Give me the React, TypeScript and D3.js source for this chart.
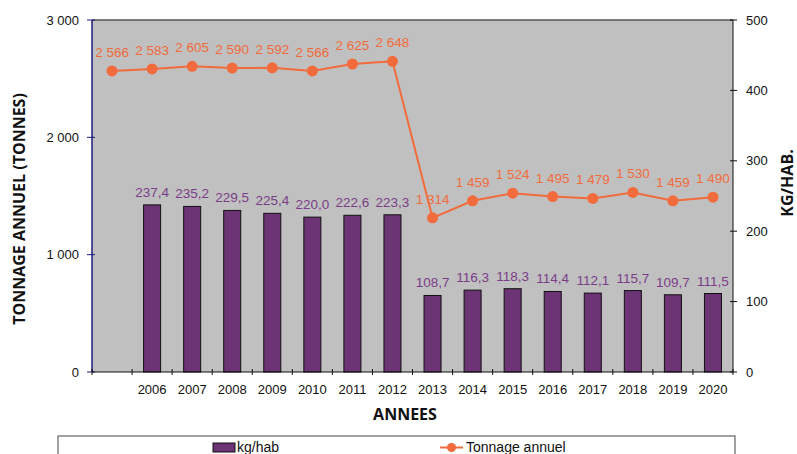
import React from "react";
import * as d3 from "d3";

const categories = ["", "2006", "2007", "2008", "2009", "2010", "2011", "2012", "2013", "2014", "2015", "2016", "2017", "2018", "2019", "2020"];
const tonnage = [2566, 2583, 2605, 2590, 2592, 2566, 2625, 2648, 1314, 1459, 1524, 1495, 1479, 1530, 1459, 1490];
const kgHab = [null, 237.4, 235.2, 229.5, 225.4, 220.0, 222.6, 223.3, 108.7, 116.3, 118.3, 114.4, 112.1, 115.7, 109.7, 111.5];
const leftTicks = [0, 1000, 2000, 3000];
const rightTicks = [0, 100, 200, 300, 400, 500];

const W = 797;
const H = 454;
const plot = { left: 92, right: 733, top: 20, bottom: 372 };

const fr = d3.formatLocale({ decimal: ",", thousands: " ", grouping: [3], currency: ["", " €"] });
const fmtT = fr.format(",d");
const fmtK = fr.format(".1f");

const ORANGE = "#f26b3c";
const PURPLE = "#6c3475";
const PURPLE_TXT = "#7a3e88";
const FONT = "Liberation Sans, Arial, sans-serif";
const TITLE_FONT = "Open Sans, sans-serif";

export default function App() {
  const x = d3
    .scaleBand<string>()
    .domain(categories.map((c, i) => String(i)))
    .range([plot.left, plot.right])
    .paddingInner(0.575)
    .paddingOuter(0.2875);
  const yL = d3.scaleLinear().domain([0, 3000]).range([plot.bottom, plot.top]);
  const yR = d3.scaleLinear().domain([0, 500]).range([plot.bottom, plot.top]);
  const cx = (i: number) => (x(String(i)) as number) + x.bandwidth() / 2;
  const step = x.step();
  const bounds = d3.range(categories.length + 1).map((i) => plot.left + i * step);

  const line = d3
    .line<number>()
    .x((d, i) => cx(i))
    .y((d) => yL(d));

  return (
    <svg width={W} height={H} style={{ position: "absolute", left: 0, top: 0, background: "#fff" }} fontFamily={FONT}>
      <rect x={plot.left} y={plot.top} width={plot.right - plot.left} height={plot.bottom - plot.top} fill="#c0c0c0" />
      <line x1={plot.left} x2={plot.right} y1={plot.top} y2={plot.top} stroke="#555" strokeWidth={1.5} />

      {kgHab.map((v, i) =>
        v == null ? null : (
          <g key={"b" + i}>
            <rect
              x={x(String(i))}
              y={yR(v)}
              width={x.bandwidth()}
              height={plot.bottom - yR(v)}
              fill={PURPLE}
              stroke="#111"
              strokeWidth={1}
            />
            <text x={cx(i)} y={yR(v) - 8} textAnchor="middle" fontSize={13.5} fill={PURPLE_TXT}>
              {fmtK(v)}
            </text>
          </g>
        )
      )}

      <path d={line(tonnage) || ""} fill="none" stroke={ORANGE} strokeWidth={2} />
      {tonnage.map((v, i) => (
        <g key={"p" + i}>
          <circle cx={cx(i)} cy={yL(v)} r={5.5} fill={ORANGE} />
          <text x={cx(i)} y={yL(v) - 14} textAnchor="middle" fontSize={13.5} fill={ORANGE}>
            {fmtT(v)}
          </text>
        </g>
      ))}

      {/* left axis */}
      <line x1={plot.left} x2={plot.left} y1={plot.top} y2={plot.bottom} stroke="#1c1c80" strokeWidth={1.5} />
      {leftTicks.map((t) => (
        <g key={"l" + t}>
          <line x1={plot.left - 5} x2={plot.left + 3} y1={yL(t)} y2={yL(t)} stroke="#1c1c80" />
          <text x={plot.left - 13} y={yL(t)} dy="0.35em" textAnchor="end" fontSize={13} fill="#111">
            {fmtT(t)}
          </text>
        </g>
      ))}

      {/* right axis */}
      <line x1={plot.right} x2={plot.right} y1={plot.top} y2={plot.bottom} stroke="#111" strokeWidth={1} />
      {rightTicks.map((t) => (
        <g key={"r" + t}>
          <line x1={plot.right - 3} x2={plot.right + 4} y1={yR(t)} y2={yR(t)} stroke="#111" />
          <text x={plot.right + 13} y={yR(t)} dy="0.35em" textAnchor="start" fontSize={13} fill="#111">
            {t}
          </text>
        </g>
      ))}

      {/* bottom axis */}
      <line x1={plot.left} x2={plot.right} y1={plot.bottom} y2={plot.bottom} stroke="#111" strokeWidth={1.2} />
      {bounds.map((b, i) => (
        <line key={"t" + i} x1={b} x2={b} y1={plot.bottom - 3} y2={plot.bottom + 3} stroke="#111" />
      ))}
      {categories.map((c, i) => (
        <text key={"c" + i} x={cx(i)} y={394} textAnchor="middle" fontSize={13} fill="#111">
          {c}
        </text>
      ))}

      {/* titles */}
      <text x={405} y={420} textAnchor="middle" fontFamily={TITLE_FONT} fontWeight="bold" fontSize={16} fill="#111">
        ANNEES
      </text>
      <text
        transform={`translate(25,209) rotate(-90)`}
        textAnchor="middle"
        fontFamily={TITLE_FONT}
        fontWeight="bold"
        fontSize={16}
        fill="#111"
      >
        TONNAGE ANNUEL (TONNES)
      </text>
      <text
        transform={`translate(793,183) rotate(-90)`}
        textAnchor="middle"
        fontFamily={TITLE_FONT}
        fontWeight="bold"
        fontSize={16}
        fill="#111"
      >
        KG/HAB.
      </text>

      {/* legend */}
      <rect x={58} y={436} width={677} height={40} fill="#fff" stroke="#444" strokeWidth={1} />
      <rect x={213} y={443} width={22} height={9} fill={PURPLE} stroke="#111" />
      <text x={237} y={452} fontSize={14} fill="#111">
        kg/hab
      </text>
      <line x1={440} x2={463} y1={447.5} y2={447.5} stroke={ORANGE} strokeWidth={2} />
      <circle cx={451.5} cy={447.5} r={4.5} fill={ORANGE} />
      <text x={466} y={452} fontSize={14} fill="#111">
        Tonnage annuel
      </text>
    </svg>
  );
}
